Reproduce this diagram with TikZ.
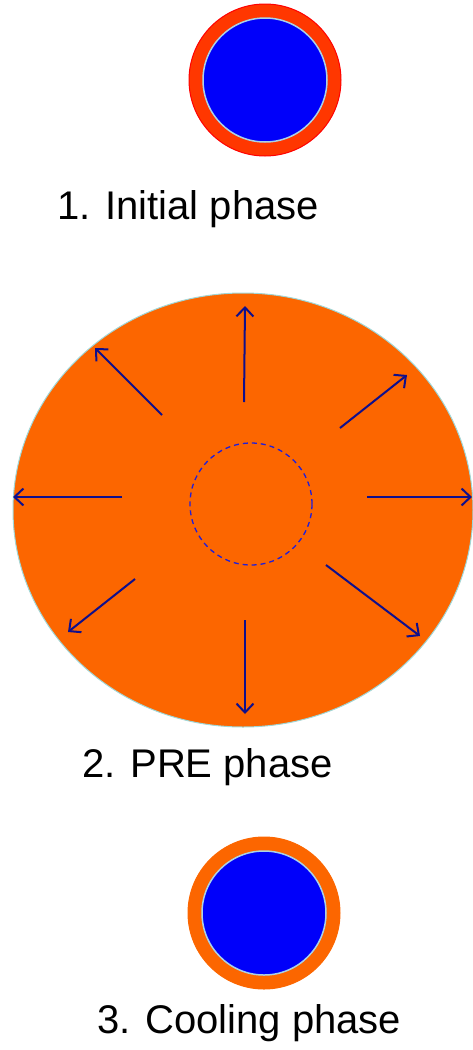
\documentclass[tikz,border=0pt]{standalone}
\usepackage{fontspec}
\setmainfont{Liberation Sans}
\usetikzlibrary{arrows.meta,shapes.geometric}
\definecolor{hotred}{RGB}{255,55,0}
\definecolor{orng}{RGB}{252,102,0}
\definecolor{coreblue}{RGB}{0,0,250}
\definecolor{rimblue}{RGB}{170,210,230}
\definecolor{arrowblue}{RGB}{15,15,140}
\definecolor{dashblue}{RGB}{30,30,220}
\definecolor{edgecyan}{RGB}{160,215,215}
\begin{document}
\begin{tikzpicture}[x=1pt,y=-1pt,
  shell/.style={circle,inner sep=0pt,minimum size=152pt,line width=1pt},
  core/.style={circle,inner sep=0pt,minimum size=124pt,fill=coreblue,draw=rimblue,line width=1.5pt},
  lbl/.style={anchor=base west,inner sep=0pt,font=\fontsize{40}{46}\selectfont},
  ray/.style={draw=arrowblue,line width=2pt,-{Straight Barb[length=9pt,width=17pt,line width=2pt]}}]
\useasboundingbox (0,0) rectangle (473,1050);
\begin{scope}
\clip (0,0) rectangle (473,1050);
% phase 1
\node[shell,fill=hotred,draw=red] (s1) at (265,80) {};
\node[core] (c1) at (265,80) {};
\node[lbl] (t1) at (57,219) {1. Initial phase};
% phase 2
\node[ellipse,draw=edgecyan,fill=orng,line width=1pt,inner sep=0pt,minimum width=460pt,minimum height=434pt] (big) at (243,510) {};
\node[circle,draw=dashblue,dashed,line width=1.3pt,dash pattern=on 5pt off 4pt,minimum size=122pt,inner sep=0pt] (dc) at (251,504) {};
\coordinate (a1s) at (244,402); \coordinate (a1e) at (245,306);
\coordinate (a2s) at (162,415); \coordinate (a2e) at (95,348);
\coordinate (a3s) at (340,428); \coordinate (a3e) at (407,375);
\coordinate (a4s) at (122,497); \coordinate (a4e) at (13,497);
\coordinate (a5s) at (367,497); \coordinate (a5e) at (472,497);
\coordinate (a6s) at (135,579); \coordinate (a6e) at (68,632);
\coordinate (a7s) at (245,620); \coordinate (a7e) at (245,714);
\coordinate (a8s) at (326,565); \coordinate (a8e) at (420,636);
\foreach \i in {1,...,8} {\draw[ray] (a\i s) -- (a\i e);}
\node[lbl] (t2) at (82,777) {2. PRE phase};
% phase 3
\node[shell,fill=orng,draw=orng] (s3) at (264,913) {};
\node[core] (c3) at (264,913) {};
\node[lbl] (t3) at (97,1033) {3. Cooling phase};
\end{scope}
\end{tikzpicture}
\end{document}
